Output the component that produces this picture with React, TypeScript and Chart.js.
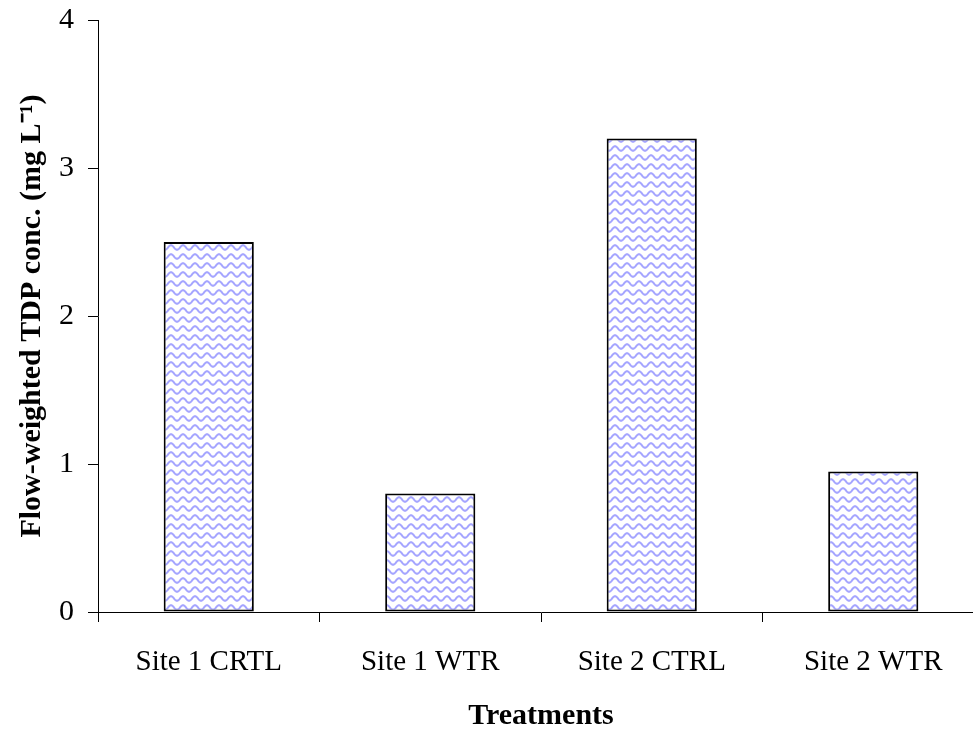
import React, { useEffect, useRef } from "react";
import { Chart, registerables } from "chart.js";

Chart.register(...registerables);

const categories = ["Site 1 CRTL", "Site 1 WTR", "Site 2 CTRL", "Site 2 WTR"];
const tdpValues = [2.5, 0.8, 3.2, 0.95];
const yMin = 0;
const yMax = 4;
const yStep = 1;
const yTitle = "Flow-weighted TDP conc. (mg L\u207B\u00B9)";
const xTitle = "Treatments";

const FONT = "'Liberation Serif', 'Times New Roman', serif";

function makeWavePattern(): CanvasPattern | string {
  const c = document.createElement("canvas");
  c.width = 12;
  c.height = 9;
  const ctx = c.getContext("2d");
  if (!ctx) return "#ccccff";
  ctx.fillStyle = "#ffffff";
  ctx.fillRect(0, 0, 12, 9);
  ctx.strokeStyle = "rgb(165,165,255)";
  ctx.lineWidth = 2;
  ctx.beginPath();
  for (let x = -1; x <= 13; x += 0.5) {
    const y = 4.5 - 2.3 * Math.sin((2 * Math.PI * x) / 12);
    if (x === -1) ctx.moveTo(x, y);
    else ctx.lineTo(x, y);
  }
  ctx.stroke();
  const p = ctx.createPattern(c, "repeat");
  return p || "#ccccff";
}

export default function App() {
  const ref = useRef<HTMLCanvasElement | null>(null);

  useEffect(() => {
    document.body.style.margin = "0";
    document.body.style.overflow = "hidden";
    document.documentElement.style.overflow = "hidden";
    if (!ref.current) return;
    const pattern = makeWavePattern();
    const chart = new Chart(ref.current, {
      type: "bar",
      data: {
        labels: categories,
        datasets: [
          {
            data: tdpValues,
            backgroundColor: pattern as any,
            borderColor: "#000000",
            borderWidth: 2,
            borderSkipped: false,
            categoryPercentage: 1,
            barPercentage: 0.407,
          },
        ],
      },
      options: {
        animation: false,
        responsive: true,
        maintainAspectRatio: false,
        layout: { padding: { top: 20, right: 0, left: 0, bottom: 0 } },
        plugins: {
          legend: { display: false },
          tooltip: { enabled: false },
        },
        scales: {
          x: {
            grid: {
              display: true,
              drawOnChartArea: false,
              drawTicks: true,
              tickLength: 10,
              color: "#000000",
              offset: true,
            },
            border: { display: true, color: "#000000", width: 1 },
            ticks: {
              color: "#000000",
              padding: 23,
              maxRotation: 0,
              font: { family: FONT, size: 29 },
            },
            title: {
              display: true,
              text: xTitle,
              color: "#000000",
              font: { family: FONT, size: 30, weight: "bold" },
              padding: { top: 0, bottom: -5 },
            },
            afterFit: (scale: any) => {
              scale.height = 117;
              scale.paddingLeft = 0;
              scale.paddingRight = 0;
            },
          },
          y: {
            min: yMin,
            max: yMax,
            grid: {
              display: true,
              drawOnChartArea: false,
              drawTicks: true,
              tickLength: 10,
              color: "#000000",
            },
            border: { display: true, color: "#000000", width: 1 },
            ticks: {
              stepSize: yStep,
              color: "#000000",
              padding: 14,
              font: { family: FONT, size: 30 },
            },
            title: {
              display: true,
              text: yTitle,
              color: "#000000",
              font: { family: FONT, size: 30, weight: "bold" },
              padding: { top: 14, bottom: 0 },
            },
            afterFit: (scale: any) => {
              scale.width = 98;
              scale.paddingTop = 0;
              scale.paddingBottom = 0;
            },
          },
        },
      },
    });
    return () => chart.destroy();
  }, []);

  return (
    <div style={{ position: "relative", width: "984px", height: "729px" }}>
      <canvas ref={ref} />
    </div>
  );
}
